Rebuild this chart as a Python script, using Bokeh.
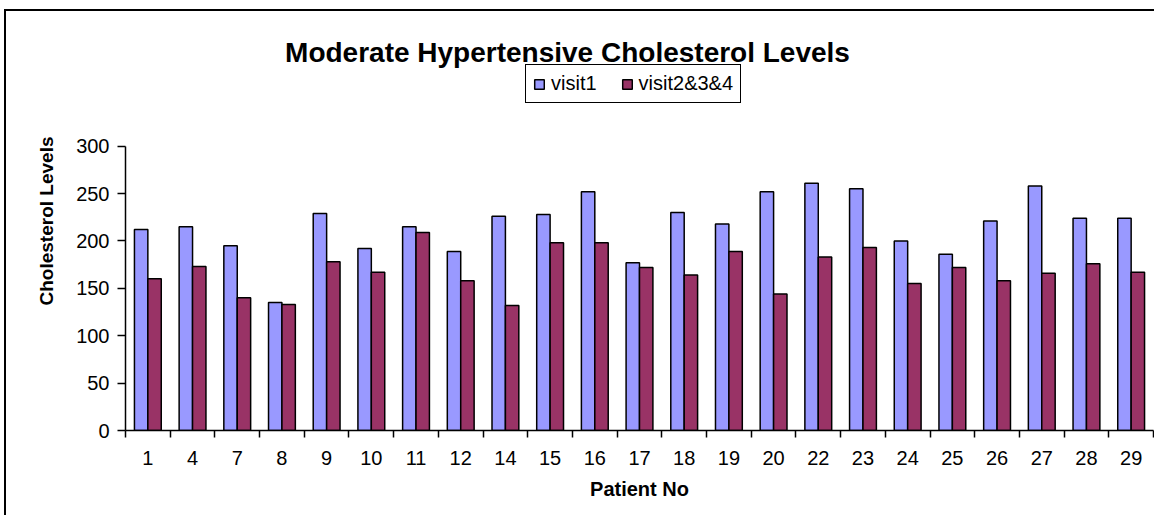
from bokeh.plotting import figure
from bokeh.models import (ColumnDataSource, Legend, LegendItem, FixedTicker, Label)
from bokeh.transform import dodge
from bokeh.embed import file_html
from bokeh.resources import INLINE

# ---- data ----
patients = ["1", "4", "7", "8", "9", "10", "11", "12", "14", "15", "16", "17",
            "18", "19", "20", "22", "23", "24", "25", "26", "27", "28", "29"]
visit1 = [212, 215, 195, 135, 229, 192, 215, 189, 226, 228, 252, 177,
          230, 218, 252, 261, 255, 200, 186, 221, 258, 224, 224]
visit234 = [160, 173, 140, 133, 178, 167, 209, 158, 132, 198, 198, 172,
            164, 189, 144, 183, 193, 155, 172, 158, 166, 176, 167]
y_ticks = [0, 50, 100, 150, 200, 250, 300]
title_text = "Moderate Hypertensive Cholesterol Levels"
x_title = "Patient No"
y_title = "Cholesterol Levels"
series_names = ["visit1", "visit2&3&4"]
colors = ["#9999FF", "#993366"]

n = len(patients)
pos = list(range(1, n + 1))
src = ColumnDataSource(dict(x=pos, v1=visit1, v2=visit234))

FONT = "Liberation Sans"

# frame spans from the canvas top down to the x axis; 300 sits 134.7 px below top
Y_TOP = 300 * 419 / 284.3

p = figure(width=1150, height=506, output_backend="svg", toolbar_location=None,
           x_range=(0.5, n + 0.5), y_range=(0, Y_TOP),
           min_border_left=119, min_border_right=3, min_border_top=0,
           min_border_bottom=87)
p.styles = {"margin-left": "4px", "margin-top": "9px",
            "border-left": "2px solid black", "border-top": "2px solid black"}
p.outline_line_color = None
p.xgrid.visible = False
p.ygrid.visible = False
p.background_fill_color = "white"
p.border_fill_color = "white"

r1 = p.vbar(x=dodge("x", -0.15), top="v1", width=0.3, source=src,
            fill_color=colors[0], line_color="black", line_width=1.5)
r2 = p.vbar(x=dodge("x", 0.15), top="v2", width=0.3, source=src,
            fill_color=colors[1], line_color="black", line_width=1.5)

# x axis: labels at centres, ticks at category boundaries
xa = p.xaxis[0]
xa.ticker = FixedTicker(ticks=pos, minor_ticks=[i + 0.5 for i in range(0, n + 1)])
xa.major_label_overrides = {i + 1: lab for i, lab in enumerate(patients)}
xa.major_tick_out = 0
xa.major_tick_in = 0
xa.minor_tick_out = 7
xa.minor_tick_in = 0
xa.minor_tick_line_color = "black"
xa.minor_tick_line_width = 1.5
xa.axis_line_color = "black"
xa.axis_line_width = 1.5
xa.major_label_text_font = FONT
xa.major_label_text_font_size = "20px"
xa.major_label_text_color = "black"
xa.major_label_standoff = 13
xa.axis_label = x_title
xa.axis_label_text_font = FONT
xa.axis_label_text_font_size = "20px"
xa.axis_label_text_font_style = "bold"
xa.axis_label_text_color = "black"
xa.axis_label_standoff = 10

ya = p.yaxis[0]
ya.ticker = FixedTicker(ticks=y_ticks)
ya.bounds = (0, 300)
ya.minor_tick_out = 0
ya.minor_tick_in = 0
ya.major_tick_out = 8
ya.major_tick_in = 0
ya.major_tick_line_width = 1.5
ya.axis_line_width = 1.5
ya.major_label_text_font = FONT
ya.major_label_text_font_size = "20px"
ya.major_label_text_color = "black"
ya.major_label_standoff = 8
ya.axis_label = y_title
ya.axis_label_text_font = FONT
ya.axis_label_text_font_size = "19px"
ya.axis_label_text_font_style = "bold"
ya.axis_label_text_color = "black"
ya.axis_label_standoff = 16

legend = Legend(items=[LegendItem(label=series_names[0], renderers=[r1]),
                       LegendItem(label=series_names[1], renderers=[r2])],
                orientation="horizontal", location=(400, 327),
                border_line_color="black", border_line_width=1.5,
                border_line_alpha=1.0,
                padding=7, spacing=24, glyph_width=12, glyph_height=12,
                label_standoff=6, label_text_font=FONT,
                label_text_font_size="20px", label_text_color="black",
                margin=0, label_height=14)
p.add_layout(legend)

title = Label(x=442, y=378, x_units="screen", y_units="screen", text=title_text,
              text_font=FONT, text_font_size="28px", text_font_style="bold",
              text_align="center", text_baseline="alphabetic", text_color="black")
p.add_layout(title)

open("out.html", "w").write(file_html(p, INLINE))
